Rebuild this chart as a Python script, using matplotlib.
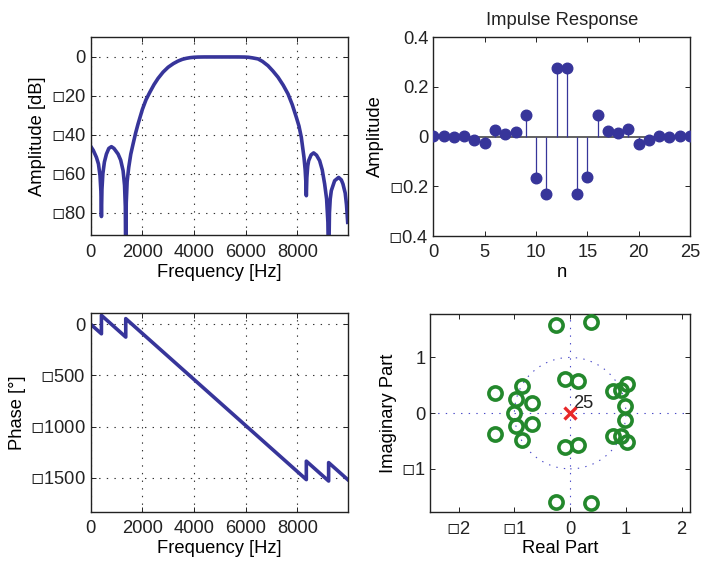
import matplotlib
matplotlib.use("Agg")
import matplotlib.pyplot as plt
from matplotlib.ticker import FixedLocator, FuncFormatter
from matplotlib.patches import Circle

# ---- magnitude response of the FIR band-pass (fs = 20 kHz) ----
mag_freq = [0, 100, 222, 300, 360, 395, 415, 435, 470, 530, 608, 700, 802, 900,
            1060, 1160, 1253, 1310, 1340, 1356, 1375, 1410, 1472, 1550, 1640,
            1740, 1833, 2001, 2140, 2285, 2450, 2607, 2800, 2994, 3200, 3381,
            3550, 3700, 3850, 4000, 4154, 4400, 5000, 5700, 5960, 6100, 6250,
            6475, 6650, 6862, 7050, 7249, 7450, 7636, 7800, 7958, 8060, 8151,
            8254, 8300, 8330, 8345, 8365, 8400, 8435, 8530, 8628, 8740, 8860,
            8960, 9054, 9130, 9180, 9208, 9240, 9270, 9312, 9441, 9595, 9700,
            9763, 9850, 9900, 9946]
mag_db = [-45.9, -48.0, -51.6, -55.0, -61.0, -69.0, -82.0, -68.0, -60.0, -54.0,
          -49.9, -47.0, -46.1, -47.0, -49.9, -53.0, -58.4, -66.0, -77.0, -110.0,
          -75.0, -64.0, -56.7, -50.0, -44.7, -39.0, -34.4, -26.9, -22.0, -18.2,
          -14.2, -11.0, -7.8, -5.3, -3.4, -2.1, -1.2, -0.7, -0.35, -0.15, -0.05,
          0.0, 0.0, 0.0, -0.05, -0.15, -0.45, -1.0, -2.3, -4.5, -7.2, -10.4,
          -14.5, -19.0, -24.5, -31.0, -35.5, -41.3, -51.6, -58.0, -65.0, -71.3,
          -62.0, -56.0, -53.3, -50.3, -49.3, -50.5, -53.3, -58.0, -65.3, -73.0,
          -85.0, -110.0, -80.0, -73.0, -68.7, -63.6, -61.9, -63.2, -65.3, -70.0,
          -76.0, -85.0]

# ---- unwrapped phase (degrees) ----
phase_freq = [0, 415, 415, 1356, 1356, 8345, 8345, 9208, 9208, 9946]
phase_deg = [0, -93, 87, -125, 55, -1518, -1338, -1532, -1352, -1518]

# ---- impulse response, 26 taps ----
n_idx = list(range(26))
h = [0.001, 0.003, -0.001, 0.003, -0.012, -0.025, 0.028, 0.012, 0.019, 0.085,
     -0.165, -0.233, 0.275, 0.275, -0.233, -0.164, 0.086, 0.023, 0.015, 0.032,
     -0.031, -0.012, 0.004, -0.001, 0.003, 0.001]

# ---- zeros and the multiple pole at the origin ----
zeros_re = [-0.25, 0.38, -0.25, 0.38, -0.10, 0.14, -0.10, 0.14,
            -1.35, -1.35, -0.87, -0.87, -0.97, -0.97, -1.00, -0.68, -0.68,
            0.77, 0.91, 1.02, 0.99, 0.99, 0.77, 0.91, 1.02]
zeros_im = [1.59, 1.63, -1.59, -1.62, 0.62, 0.58, -0.60, -0.58,
            0.37, -0.38, 0.49, -0.49, 0.25, -0.23, 0.00, 0.19, -0.19,
            0.40, 0.41, 0.53, 0.13, -0.13, -0.41, -0.41, -0.51]
pole_re = [0.0]
pole_im = [0.0]
pole_order = 25

BLUE = "#37359a"
GREEN = "#23882c"
RED = "#e8282a"
FS = 13.2

plt.rcParams["font.family"] = ["Liberation Sans", "DejaVu Sans"]
plt.rcParams["font.size"] = FS
plt.rcParams["lines.scale_dashes"] = False
plt.rcParams["mathtext.fontset"] = "custom"
plt.rcParams["mathtext.rm"] = "Liberation Sans"
plt.rcParams["mathtext.bf"] = "DejaVu Sans:bold"

BOX = "$\\mathbf{\u25fd}$"


def neg_box(v, pos):
    if abs(v) < 1e-9:
        v = 0.0
    s = "%g" % round(v, 6)
    if s.startswith("-"):
        return BOX + s[1:]
    return s


def style(ax, xt, yt, grid=False):
    ax.xaxis.set_major_locator(FixedLocator(xt))
    ax.yaxis.set_major_locator(FixedLocator(yt))
    ax.xaxis.set_major_formatter(FuncFormatter(neg_box))
    ax.yaxis.set_major_formatter(FuncFormatter(neg_box))
    ax.tick_params(direction="in", length=3.5, width=0.7, top=True, right=True,
                   labelsize=FS, colors="#222222")
    ax.tick_params(axis="x", pad=6.0)
    ax.tick_params(axis="y", pad=3.5)
    for sp in ax.spines.values():
        sp.set_linewidth(1.0)
        sp.set_color("#222222")
    if grid:
        ax.grid(True, color="#333333", linewidth=0.8,
                linestyle=(0, (1.0, 4.5)))


fig = plt.figure(figsize=(7.01, 5.61), dpi=100)

# magnitude
ax1 = fig.add_axes([0.1294, 0.5804, 0.3666, 0.3531])
ax1.plot(mag_freq, mag_db, color=BLUE, lw=2.6, solid_joinstyle="round")
ax1.set_xlim(0, 9946)
ax1.set_ylim(-91.7, 10.1)
style(ax1, [0, 2000, 4000, 6000, 8000], [0, -20, -40, -60, -80], grid=True)
ax1.set_xlabel("Frequency [Hz]", labelpad=2)
ax1.set_ylabel("Amplitude [dB]", labelpad=3)

# impulse response
ax2 = fig.add_axes([0.6183, 0.5793, 0.3660, 0.3547])
ax2.plot([n_idx[0], n_idx[-1]], [0, 0], color="#555555", lw=1.3, zorder=1)
ax2.vlines(n_idx, 0, h, color=BLUE, lw=0.9, zorder=2)
ax2.plot(n_idx, h, "o", color=BLUE, mfc=BLUE, mec=BLUE, ms=7.6, zorder=3)
ax2.set_xlim(0, 25)
ax2.set_ylim(-0.4, 0.4)
style(ax2, [0, 5, 10, 15, 20, 25], [-0.4, -0.2, 0, 0.2, 0.4])
ax2.set_xlabel("n", labelpad=2)
ax2.set_ylabel("Amplitude", labelpad=3)
ax2.set_title("Impulse Response", fontsize=FS, pad=9, color="#222222")

# phase
ax3 = fig.add_axes([0.1294, 0.0873, 0.3666, 0.3542])
ax3.plot(phase_freq, phase_deg, color=BLUE, lw=2.6, solid_joinstyle="round")
ax3.set_xlim(0, 9946)
ax3.set_ylim(-1835, 107)
style(ax3, [0, 2000, 4000, 6000, 8000], [0, -500, -1000, -1500], grid=True)
ax3.set_xlabel("Frequency [Hz]", labelpad=2)
ax3.set_ylabel("Phase [\u00b0]", labelpad=3)

# pole-zero plot
ax4 = fig.add_axes([0.6138, 0.0868, 0.3705, 0.3535])
dot = (0, (1.0, 4.5))
ax4.axhline(0, color="#4a4ac8", lw=0.8, linestyle=dot, zorder=1)
ax4.axvline(0, color="#4a4ac8", lw=0.8, linestyle=dot, zorder=1)
ax4.add_patch(Circle((0, 0), 1.0, fill=False, edgecolor="#4a4ac8", lw=0.8,
                     linestyle=dot, zorder=1))
ax4.plot(zeros_re, zeros_im, "o", ms=9.5, mfc="none", mec=GREEN, mew=2.6,
         zorder=3)
ax4.plot(pole_re, pole_im, "x", ms=8, mec=RED, mew=2.4, zorder=4)
ax4.text(pole_re[0] + 0.05, pole_im[0] + 0.09, str(pole_order), fontsize=FS,
         ha="left", va="baseline", color="#222222")
ax4.set_xlim(-2.51, 2.15)
ax4.set_ylim(-1.78, 1.78)
style(ax4, [-2, -1, 0, 1, 2], [-1, 0, 1])
ax4.set_xlabel("Real Part", labelpad=2)
ax4.set_ylabel("Imaginary Part", labelpad=3)

fig.savefig("out.png", dpi=100)
